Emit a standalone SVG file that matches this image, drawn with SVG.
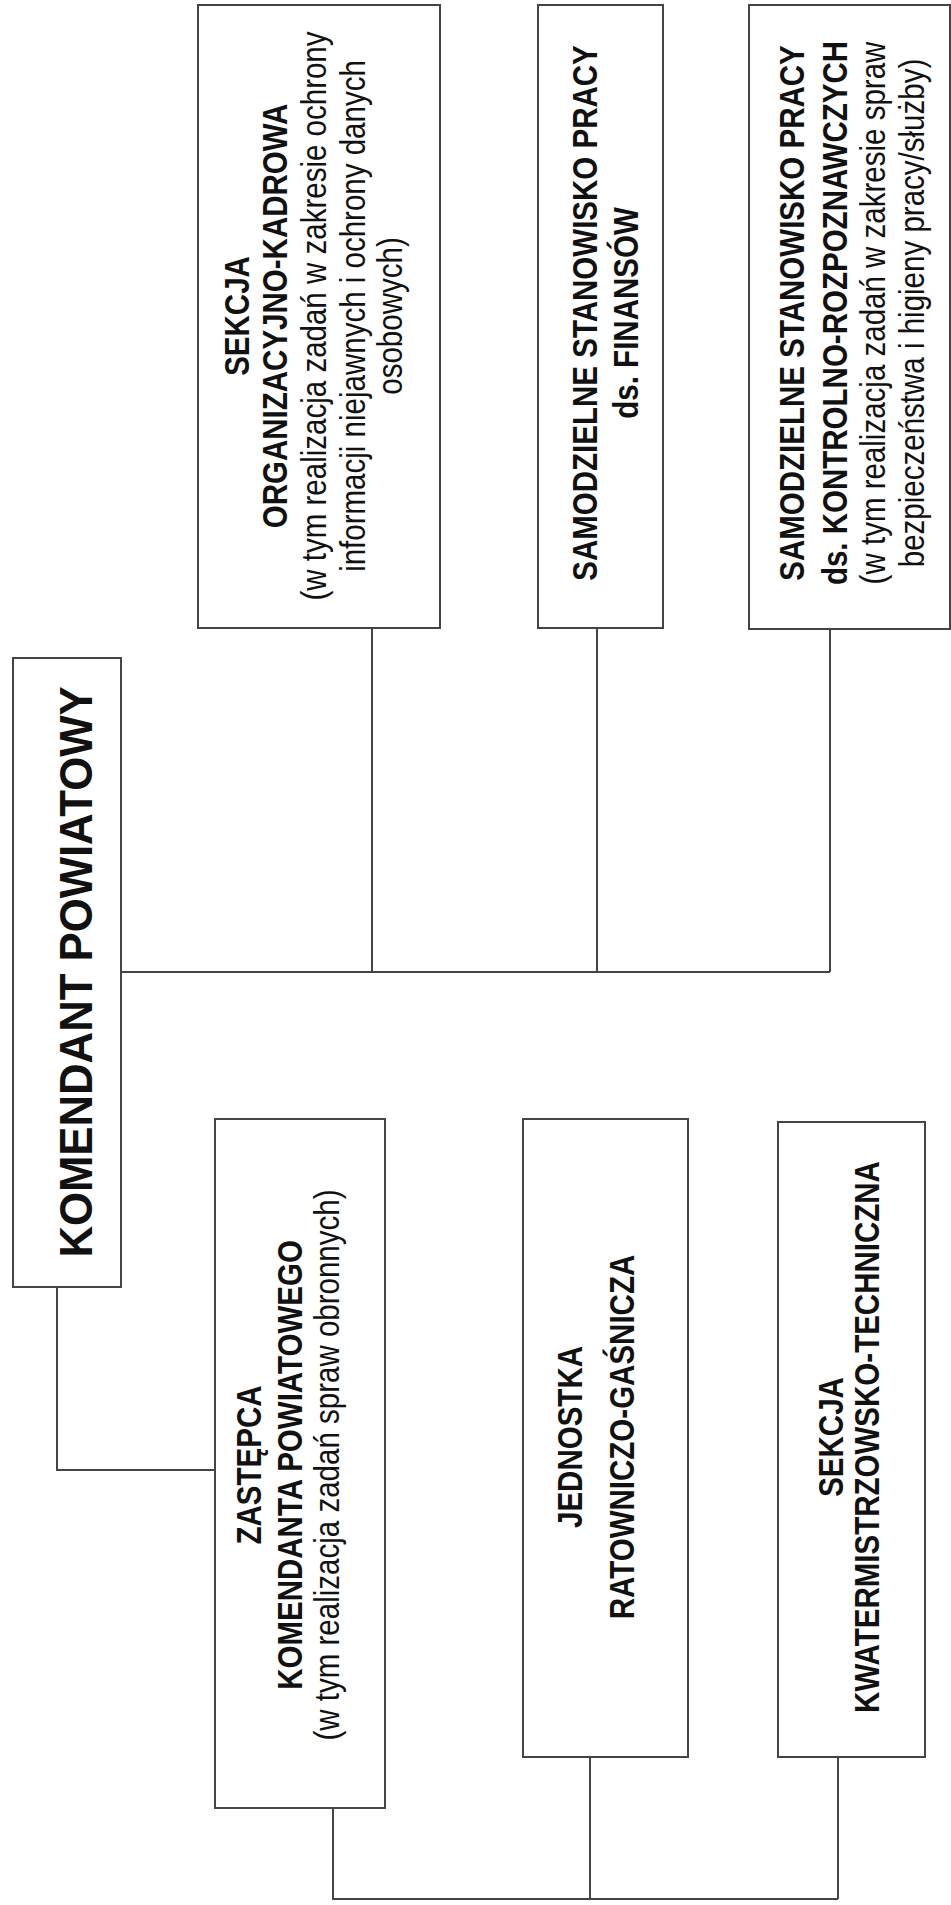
<svg xmlns="http://www.w3.org/2000/svg" width="951" height="1905" viewBox="0 0 951 1905">
<style>
.box{fill:#fff;stroke:#444;stroke-width:2}
.ln{fill:none;stroke:#444;stroke-width:2}
text{font-family:"Liberation Sans",Arial,sans-serif;fill:#111;text-anchor:middle}
.b{font-weight:bold;font-size:36px}
.r{font-size:36px}
.big{font-weight:bold;font-size:46px}
</style>
<rect width="951" height="1905" fill="#fff"/>
<g id="connectors">
<polyline class="ln" points="121,972 830,972"/>
<line class="ln" x1="372" y1="628" x2="372" y2="972"/>
<line class="ln" x1="597" y1="628" x2="597" y2="972"/>
<line class="ln" x1="830" y1="629" x2="830" y2="972"/>
<polyline class="ln" points="57,1287 57,1470 215,1470"/>
<polyline class="ln" points="333,1808 333,1899 838,1899"/>
<line class="ln" x1="590" y1="1757" x2="590" y2="1899"/>
<line class="ln" x1="838" y1="1757" x2="838" y2="1899"/>
</g>
<g id="komendant">
<rect class="box" x="13" y="658" width="108" height="629"/>
<text class="big" transform="translate(92,972) rotate(-90) scale(0.95,1)">KOMENDANT POWIATOWY</text>
</g>
<g id="sekcja-org">
<rect class="box" x="198" y="5" width="242" height="623"/>
<text class="b" transform="translate(249,316) rotate(-90) scale(0.82,1)">SEKCJA</text>
<text class="b" transform="translate(287,316) rotate(-90) scale(0.82,1)">ORGANIZACYJNO-KADROWA</text>
<text class="r" transform="translate(326,316) rotate(-90) scale(0.82,1)">(w tym realizacja zadań w zakresie ochrony</text>
<text class="r" transform="translate(365,316) rotate(-90) scale(0.82,1)">informacji niejawnych i ochrony danych</text>
<text class="r" transform="translate(402,316) rotate(-90) scale(0.82,1)">osobowych)</text>
</g>
<g id="finanse">
<rect class="box" x="538" y="5" width="125" height="623"/>
<text class="b" transform="translate(597,313) rotate(-90) scale(0.82,1)">SAMODZIELNE STANOWISKO PRACY</text>
<text class="b" transform="translate(638,313) rotate(-90) scale(0.82,1)">ds. FINANSÓW</text>
</g>
<g id="kontrolno">
<rect class="box" x="749" y="5" width="201" height="624"/>
<text class="b" transform="translate(804,313) rotate(-90) scale(0.82,1)">SAMODZIELNE STANOWISKO PRACY</text>
<text class="b" transform="translate(847,313) rotate(-90) scale(0.82,1)">ds. KONTROLNO-ROZPOZNAWCZYCH</text>
<text class="r" transform="translate(885,313) rotate(-90) scale(0.82,1)">(w tym realizacja zadań w zakresie spraw</text>
<text class="r" transform="translate(924,313) rotate(-90) scale(0.82,1)">bezpieczeństwa i higieny pracy/służby)</text>
</g>
<g id="zastepca">
<rect class="box" x="215" y="1119" width="170" height="689"/>
<text class="b" transform="translate(261,1465) rotate(-90) scale(0.82,1)">ZASTĘPCA</text>
<text class="b" transform="translate(302,1465) rotate(-90) scale(0.82,1)">KOMENDANTA POWIATOWEGO</text>
<text class="r" transform="translate(339,1465) rotate(-90) scale(0.82,1)">(w tym realizacja zadań spraw obronnych)</text>
</g>
<g id="jrg">
<rect class="box" x="523" y="1119" width="165" height="638"/>
<text class="b" transform="translate(582,1437) rotate(-90) scale(0.82,1)">JEDNOSTKA</text>
<text class="b" transform="translate(634,1437) rotate(-90) scale(0.82,1)">RATOWNICZO-GAŚNICZA</text>
</g>
<g id="kwatermistrz">
<rect class="box" x="778" y="1122" width="147" height="635"/>
<text class="b" transform="translate(843,1437) rotate(-90) scale(0.82,1)">SEKCJA</text>
<text class="b" transform="translate(879,1437) rotate(-90) scale(0.82,1)">KWATERMISTRZOWSKO-TECHNICZNA</text>
</g>
</svg>
